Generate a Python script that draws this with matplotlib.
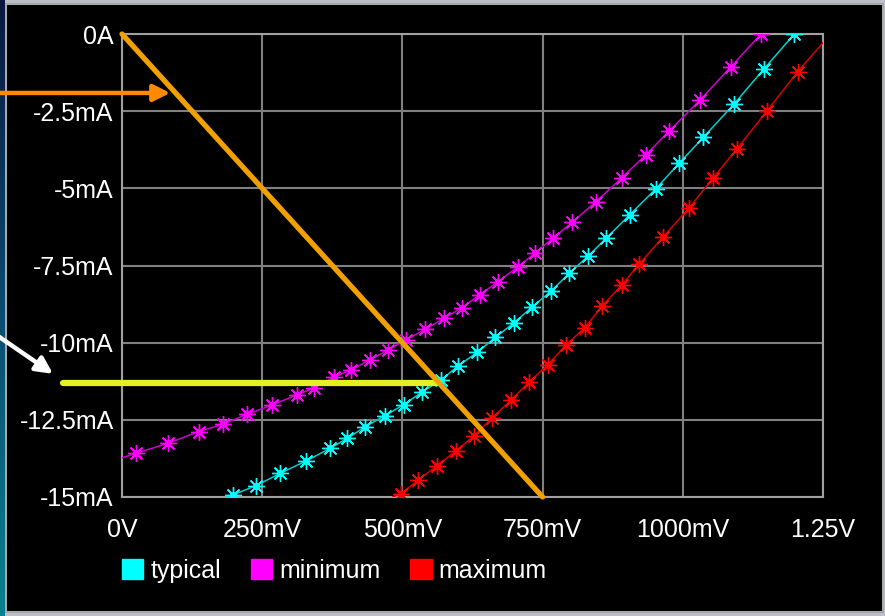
import numpy as np
import matplotlib
matplotlib.use("Agg")
import matplotlib.pyplot as plt
from matplotlib.patches import Rectangle, Patch
from matplotlib.colors import LinearSegmentedColormap

plt.rcParams['font.family'] = ['Liberation Sans', 'DejaVu Sans']

# I/V curves, volts vs mA (first point is where the trace enters the plot)
min_v = [0.0, 0.0255, 0.0820, 0.1368, 0.1801, 0.2229, 0.2675, 0.3121, 0.3424,
         0.3781, 0.4083, 0.4422, 0.4743, 0.5064, 0.5403, 0.5742, 0.6063, 0.6384,
         0.6710, 0.7053, 0.7365, 0.7680, 0.8030, 0.8452, 0.8911, 0.9338, 0.9759,
         1.0307, 1.0854, 1.1395]
min_i = [-13.73, -13.58, -13.26, -12.88, -12.64, -12.32, -12.02, -11.69, -11.47,
         -11.11, -10.88, -10.56, -10.24, -9.91, -9.57, -9.21, -8.87, -8.44,
         -8.02, -7.55, -7.10, -6.62, -6.10, -5.43, -4.66, -3.92, -3.14,
         -2.14, -1.07, 0.0]

typ_v = [0.1855, 0.1979, 0.2395, 0.2823, 0.3286, 0.3714, 0.4018, 0.4338, 0.4690,
         0.5023, 0.5350, 0.5688, 0.5997, 0.6336, 0.6657, 0.6994, 0.7316, 0.7650,
         0.7976, 0.8315, 0.8631, 0.9058, 0.9517, 0.9938, 1.0366, 1.0913, 1.1448,
         1.1988]
typ_i = [-15.0, -14.93, -14.63, -14.23, -13.83, -13.42, -13.10, -12.72, -12.36,
         -12.01, -11.60, -11.21, -10.75, -10.31, -9.83, -9.35, -8.84, -8.33,
         -7.75, -7.19, -6.62, -5.85, -5.02, -4.18, -3.35, -2.27, -1.13,
         0.0]

max_v = [0.4830, 0.4970, 0.5284, 0.5622, 0.5950, 0.6282, 0.6603, 0.6937, 0.7258,
         0.7591, 0.7909, 0.8251, 0.8568, 0.8911, 0.9224, 0.9647, 1.0110, 1.0544,
         1.0961, 1.1507, 1.2049, 1.25]
max_i = [-15.0, -14.90, -14.45, -13.98, -13.51, -13.01, -12.43, -11.86, -11.28,
         -10.72, -10.09, -9.52, -8.80, -8.13, -7.45, -6.58, -5.64, -4.66,
         -3.73, -2.48, -1.22, -0.28]

# load line and operating point
load_v = [0.0, 0.75]
load_i = [0.0, -15.0]
op_i = -11.32

x_ticks = [0, 0.25, 0.5, 0.75, 1.0, 1.25]
x_labels = ['0V', '250mV', '500mV', '750mV', '1000mV', '1.25V']
y_ticks = [0, -2.5, -5, -7.5, -10, -12.5, -15]
y_labels = ['0A', '-2.5mA', '-5mA', '-7.5mA', '-10mA', '-12.5mA', '-15mA']

W, H = 885, 616
fig = plt.figure(figsize=(W / 100, H / 100), dpi=100, facecolor='#bcc0c8')

# black panel with grey frame
fig.patches.append(Rectangle((6 / W, 4 / H), 877 / W, 608 / H, transform=fig.transFigure,
                             facecolor='black', edgecolor='#a8a8a8', linewidth=1.5,
                             zorder=-10))

# blue strip on the left edge
sax = fig.add_axes([0, 0, 5 / W, 1])
grad = np.linspace(0, 1, 256).reshape(-1, 1)
strip = LinearSegmentedColormap.from_list('strip', ['#0a1840', '#0b4a70', '#0a8090'])
sax.imshow(grad, aspect='auto', cmap=strip)
sax.axis('off')

ax = fig.add_axes([122 / W, 119 / H, 701 / W, 463 / H])
ax.set_zorder(2)
ax.set_facecolor('black')
ax.set_xlim(0, 1.25)
ax.set_ylim(-15, 0)
ax.set_xticks(x_ticks)
ax.set_xticklabels(x_labels)
ax.set_yticks(y_ticks)
ax.set_yticklabels(y_labels)
ax.tick_params(length=0, colors='white', labelsize=18)
ax.tick_params(axis='x', pad=15)
ax.tick_params(axis='y', pad=6)
ax.grid(True, color='#808080', linewidth=1.5)
ax.set_axisbelow(True)
for s in ax.spines.values():
    s.set_color('#a0a0a0')
    s.set_linewidth(1.5)

star = (8, 2, 0)
for v, i, c, lc, mk in [(typ_v, typ_i, '#00ffff', '#00d0d0', slice(1, None)),
                        (min_v, min_i, '#ff00ff', '#d000d0', slice(1, None)),
                        (max_v, max_i, '#ff0000', '#d80000', slice(1, -1))]:
    ax.plot(v, i, color=lc, lw=1.1, zorder=3)
    ax.plot(v, i, linestyle='none', marker=star, markevery=mk, ms=12, mew=1.0,
            color=c, zorder=4)
    ax.plot(v, i, linestyle='none', marker='o', markevery=mk, ms=4, color=c, zorder=4)

# operating point marker line and load line
op_v = load_v[1] * op_i / load_i[1]
ax.plot([-0.105, op_v], [op_i, op_i], color='#e4f020', lw=4.5,
        solid_capstyle='round', clip_on=False, zorder=5)
ax.plot(load_v, load_i, color='#f0a000', lw=3.8, solid_capstyle='round',
        clip_on=False, zorder=6)

# pointer arrows
ax.annotate('', xy=(0.086, -1.91), xytext=(-0.24, -1.91), annotation_clip=False,
            arrowprops=dict(arrowstyle='-|>,head_length=1.0,head_width=0.5',
                            color='#ff8a00', lw=3.2, shrinkA=0, shrinkB=0), zorder=7)
ax.annotate('', xy=(-0.123, -11.01), xytext=(-0.24, -9.55), annotation_clip=False,
            arrowprops=dict(arrowstyle='-|>,head_length=1.0,head_width=0.5',
                            color='white', lw=3.2, shrinkA=0, shrinkB=0), zorder=7)

handles = [Patch(facecolor='#00ffff', edgecolor='#00ffff'),
           Patch(facecolor='#ff00ff', edgecolor='#ff00ff'),
           Patch(facecolor='#ff0000', edgecolor='#ff0000')]
leg = fig.legend(handles, ['typical', 'minimum', 'maximum'], ncol=3, frameon=False,
                 loc='center left', bbox_to_anchor=(122 / W, (H - 571) / H),
                 borderpad=0, borderaxespad=0, fontsize=18, handlelength=0.85,
                 handleheight=0.85, handletextpad=0.28, columnspacing=1.2)
for t in leg.get_texts():
    t.set_color('white')

fig.savefig('out.png', dpi=100, facecolor=fig.get_facecolor())
